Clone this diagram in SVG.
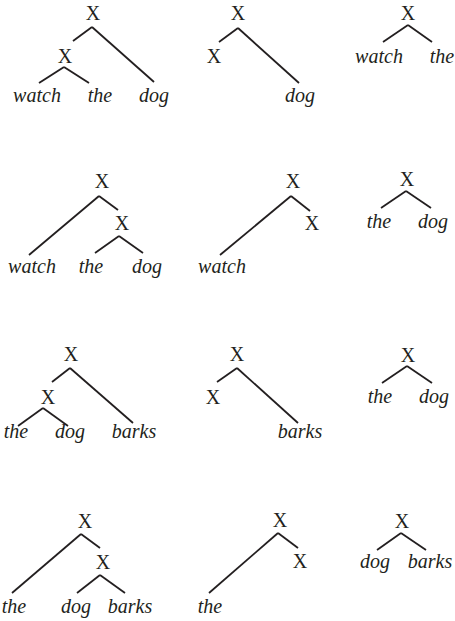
<svg xmlns="http://www.w3.org/2000/svg" width="455" height="621" viewBox="0 0 455 621">
<style>
text{font-family:"Liberation Serif","Times New Roman",serif;font-size:20px;fill:#231f20;text-anchor:middle}
.w{font-style:italic}
.c line{stroke:#231f20;stroke-width:1.8;stroke-linecap:butt}
</style>
<rect width="455" height="621" fill="#fff"/>
<g class="c" id="connectors">
<line x1="92" y1="27" x2="73" y2="41"/><line x1="92" y1="27" x2="154" y2="82"/>
<line x1="64" y1="67" x2="39" y2="83"/><line x1="64" y1="67" x2="89" y2="83"/>
<line x1="238" y1="28" x2="219" y2="42"/><line x1="238" y1="28" x2="299" y2="83"/>
<line x1="408" y1="25" x2="383" y2="42"/><line x1="408" y1="25" x2="432" y2="42"/>
<line x1="99" y1="196" x2="29" y2="255"/><line x1="99" y1="196" x2="118" y2="210"/>
<line x1="119" y1="236" x2="95" y2="253"/><line x1="119" y1="236" x2="143" y2="253"/>
<line x1="291" y1="196" x2="220" y2="255"/><line x1="291" y1="196" x2="310" y2="211"/>
<line x1="406" y1="191" x2="381" y2="208"/><line x1="406" y1="191" x2="431" y2="208"/>
<line x1="70" y1="368" x2="52" y2="382"/><line x1="70" y1="368" x2="133" y2="423"/>
<line x1="43" y1="408" x2="18" y2="426"/><line x1="43" y1="408" x2="68" y2="426"/>
<line x1="237" y1="368" x2="217" y2="382"/><line x1="237" y1="368" x2="298" y2="423"/>
<line x1="407" y1="366" x2="382" y2="383"/><line x1="407" y1="366" x2="432" y2="383"/>
<line x1="81" y1="534" x2="12" y2="593"/><line x1="81" y1="534" x2="100" y2="548"/>
<line x1="100" y1="575" x2="77" y2="593"/><line x1="100" y1="575" x2="125" y2="593"/>
<line x1="278" y1="533" x2="209" y2="593"/><line x1="278" y1="533" x2="298" y2="548"/>
<line x1="401" y1="533" x2="377" y2="550"/><line x1="401" y1="533" x2="426" y2="550"/>
</g>
<g id="t1-x"><text x="93" y="20">X</text></g>
<g id="t1-x2"><text x="65" y="63">X</text></g>
<g id="t1-watch"><text class="w" x="37" y="102">watch</text></g>
<g id="t1-the"><text class="w" x="100" y="102">the</text></g>
<g id="t1-dog"><text class="w" x="154" y="102">dog</text></g>
<g id="t2-x"><text x="238" y="20">X</text></g>
<g id="t2-x2"><text x="214" y="63">X</text></g>
<g id="t2-dog"><text class="w" x="300" y="102">dog</text></g>
<g id="t3-x"><text x="408" y="20">X</text></g>
<g id="t3-watch"><text class="w" x="379" y="63">watch</text></g>
<g id="t3-the"><text class="w" x="442" y="63">the</text></g>
<g id="t4-x"><text x="102" y="188">X</text></g>
<g id="t4-x2"><text x="122" y="230">X</text></g>
<g id="t4-watch"><text class="w" x="32" y="273">watch</text></g>
<g id="t4-the"><text class="w" x="91" y="273">the</text></g>
<g id="t4-dog"><text class="w" x="147" y="273">dog</text></g>
<g id="t5-x"><text x="293" y="188">X</text></g>
<g id="t5-x2"><text x="312" y="230">X</text></g>
<g id="t5-watch"><text class="w" x="222" y="273">watch</text></g>
<g id="t6-x"><text x="407" y="186">X</text></g>
<g id="t6-the"><text class="w" x="379" y="228">the</text></g>
<g id="t6-dog"><text class="w" x="433" y="228">dog</text></g>
<g id="t7-x"><text x="71" y="361">X</text></g>
<g id="t7-x2"><text x="48" y="404">X</text></g>
<g id="t7-the"><text class="w" x="16" y="438">the</text></g>
<g id="t7-dog"><text class="w" x="70" y="438">dog</text></g>
<g id="t7-barks"><text class="w" x="134" y="438">barks</text></g>
<g id="t8-x"><text x="237" y="361">X</text></g>
<g id="t8-x2"><text x="213" y="404">X</text></g>
<g id="t8-barks"><text class="w" x="300" y="438">barks</text></g>
<g id="t9-x"><text x="408" y="362">X</text></g>
<g id="t9-the"><text class="w" x="380" y="403">the</text></g>
<g id="t9-dog"><text class="w" x="434" y="403">dog</text></g>
<g id="t10-x"><text x="85" y="528">X</text></g>
<g id="t10-x2"><text x="103" y="569">X</text></g>
<g id="t10-the"><text class="w" x="14" y="613">the</text></g>
<g id="t10-dog"><text class="w" x="76" y="613">dog</text></g>
<g id="t10-barks"><text class="w" x="130" y="613">barks</text></g>
<g id="t11-x"><text x="280" y="527">X</text></g>
<g id="t11-x2"><text x="300" y="568">X</text></g>
<g id="t11-the"><text class="w" x="210" y="613">the</text></g>
<g id="t12-x"><text x="402" y="528">X</text></g>
<g id="t12-dog"><text class="w" x="375" y="568">dog</text></g>
<g id="t12-barks"><text class="w" x="430" y="568">barks</text></g>
</svg>
